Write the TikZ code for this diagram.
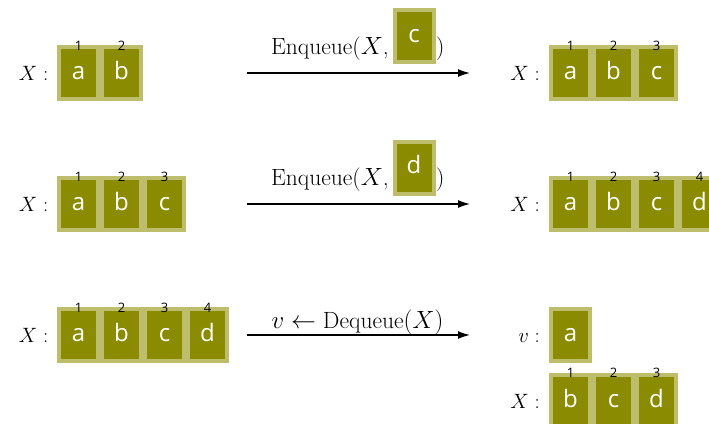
\documentclass[tikz,border=0pt]{standalone}
\usepackage{fontspec}
\newfontfamily\boxfont{Open Sans}
\usetikzlibrary{arrows.meta}
\definecolor{boxfill}{HTML}{8B8B00}
\definecolor{boxedge}{HTML}{BDBD6B}
\tikzset{
  qbox/.style={draw=boxedge, fill=boxfill, line width=4pt, minimum width=39pt,
    minimum height=52pt, inner sep=0pt, outer sep=0pt, text=white,
    font=\boxfont\fontsize{24}{28}\selectfont, text height=12.8pt, text depth=0pt},
  idx/.style={inner sep=0pt, font=\boxfont\fontsize{13}{15}\selectfont, text=black},
  lbl/.style={inner sep=0pt, font=\fontsize{23.5}{28}\selectfont},
  varlbl/.style={inner sep=0pt, font=\fontsize{21}{25}\selectfont, anchor=base east},
  oparrow/.style={line width=1.4pt, -{Latex[length=12pt,width=8pt]}},
}
\newcommand{\qrow}[4]{% name, x of first center, y center, letters
  \foreach \l [count=\i] in {#4} {
    \node[qbox] (#1\i) at ({#2+(\i-1)*43}, #3) {\l};
    \node[idx, yshift=1.5pt] (#1n\i) at (#1\i.north) {\i};
  }
}
\begin{document}
\begin{tikzpicture}[x=1pt, y=-1pt]
\useasboundingbox (0,0) rectangle (709,423);
\clip (0,0) rectangle (709,423);

% Row 1
\node[varlbl] (xa) at (48.5, 80.5) {$X:$};
\qrow{la}{78.5}{73}{a,b}
\coordinate (sa) at (247,73);
\coordinate (ea) at (470,73);
\draw[oparrow] (sa) -- (ea);
\node[lbl, anchor=base east] (enqa) at (389, 54) {Enqueue($X$,};
\node[qbox] (argc) at (414, 36) {c};
\node[lbl, anchor=base west] (pa) at (436, 54) {)};
\node[varlbl] (xar) at (540, 80.5) {$X:$};
\qrow{ra}{570.5}{73}{a,b,c}

% Row 2
\node[varlbl] (xb) at (48.5, 211.5) {$X:$};
\qrow{lb}{78.5}{204}{a,b,c}
\coordinate (sb) at (247,204);
\coordinate (eb) at (470,204);
\draw[oparrow] (sb) -- (eb);
\node[lbl, anchor=base east] (enqb) at (389, 185) {Enqueue($X$,};
\node[qbox] (argd) at (414, 167.5) {d};
\node[lbl, anchor=base west] (pb) at (436, 185) {)};
\node[varlbl] (xbr) at (540, 211.5) {$X:$};
\qrow{rb}{570.5}{204}{a,b,c,d}

% Row 3
\node[varlbl] (xc) at (48.5, 342.5) {$X:$};
\qrow{lc}{78.5}{335}{a,b,c,d}
\coordinate (sc) at (247,335);
\coordinate (ec) at (470,335);
\draw[oparrow] (sc) -- (ec);
\node[lbl, anchor=base] (deq) at (357.5, 328.5) {$v \leftarrow \mathrm{Dequeue}(X)$};
\node[varlbl] (vr) at (540, 342.5) {$v:$};
\node[qbox] (va) at (570.5, 335) {a};
\node[varlbl] (xcr) at (540, 408) {$X:$};
\qrow{rc}{570.5}{400.7}{b,c,d}
\end{tikzpicture}
\end{document}
